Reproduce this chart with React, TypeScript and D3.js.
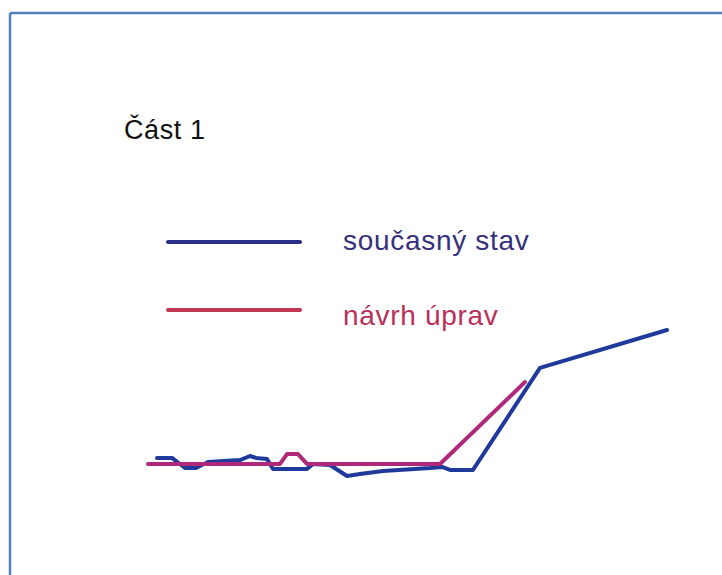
import React from 'react';
import * as d3 from 'd3';

// values (x: position along the section, y: level)
const currentX = [0.45, 1.2, 1.85, 2.4, 3.0, 4.6, 5.1, 5.4, 5.95, 6.25, 7.95, 8.25, 9.1, 9.95, 10.6, 11.75, 14.1, 14.7, 15.1, 16.25, 19.6, 25.95];
const currentY = [0.47, 0.47, -0.2, -0.2, 0.2, 0.33, 0.6, 0.47, 0.4, -0.27, -0.27, 0.07, 0, -0.73, -0.6, -0.4, -0.2, -0.13, -0.33, -0.33, 6.47, 9.0];

const proposedX = [0, 6.6, 6.95, 7.5, 7.95, 14.6, 18.85];
const proposedY = [0.07, 0.07, 0.73, 0.73, 0.07, 0.07, 5.53];

const title = 'Část 1';
const seriesNames = ['současný stav', 'návrh úprav'];
const lineColors = ['#1f3a9a', '#b0287a'];
const legendLineColors = ['#2b2f8c', '#c0384f'];
const legendTextColors = ['#36307c', '#b8305a'];

const W = 722;
const H = 575;

const App = () => {
  const x = d3.scaleLinear().domain([0, 26]).range([148, 668]);
  const y = d3.scaleLinear().domain([0, 10]).range([465, 315]);

  const line = d3.line<[number, number]>()
    .x(d => x(d[0]))
    .y(d => y(d[1]));

  const current: [number, number][] = currentX.map((v, i) => [v, currentY[i]]);
  const proposed: [number, number][] = proposedX.map((v, i) => [v, proposedY[i]]);
  const series = [current, proposed];

  return (
    <svg width={W} height={H} style={{ position: 'absolute', left: 0, top: 0, background: '#fff' }}
      fontFamily="'Liberation Sans', Arial, sans-serif">
      {/* frame */}
      <line x1={10} y1={13} x2={W} y2={13} stroke="#4f81bd" strokeWidth={2.5} />
      <line x1={10} y1={13} x2={10} y2={H} stroke="#4f81bd" strokeWidth={2.5} />

      <text x={124} y={139} fontSize={27} letterSpacing={0.6} fill="#111">{title}</text>

      {/* legend */}
      {seriesNames.map((name, i) => (
        <g key={name}>
          <line x1={168} x2={300} y1={242 + i * 68} y2={242 + i * 68}
            stroke={legendLineColors[i]} strokeWidth={4} strokeLinecap="round" />
          <text x={343} y={250 + i * 75} fontSize={28} letterSpacing={0.7} fill={legendTextColors[i]}>{name}</text>
        </g>
      ))}

      {series.map((s, i) => (
        <path key={i} d={line(s) || ''} fill="none" stroke={lineColors[i]}
          strokeWidth={4} strokeLinejoin="round" strokeLinecap="round" />
      ))}
    </svg>
  );
};

export default App;
